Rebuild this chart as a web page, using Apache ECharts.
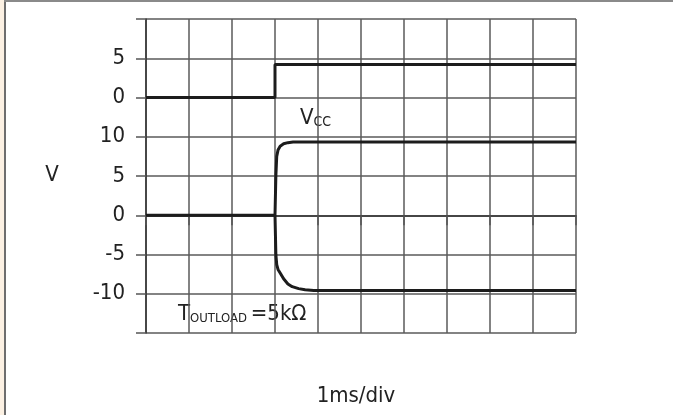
<!DOCTYPE html>
<html>
<head>
<meta charset="utf-8">
<script src="https://cdn.jsdelivr.net/npm/echarts@6/dist/echarts.min.js"></script>
<style>
  html, body { margin: 0; padding: 0; background: #ffffff; }
  #wrap { position: relative; width: 673px; height: 415px; background: #ffffff; overflow: hidden; }
  #strip { position: absolute; left: 0; top: 0; width: 4px; height: 415px; background: #fcf1e3; }
  #lborder { position: absolute; left: 4px; top: 0; width: 2px; height: 415px; background: #6e6e6e; }
  #tborder { position: absolute; left: 4px; top: 0; width: 669px; height: 2px; background: #8a8a8a; }
  #chart { position: absolute; left: 0; top: 0; width: 673px; height: 415px; }
</style>
</head>
<body>
<div id="wrap">
  <div id="strip"></div>
  <div id="lborder"></div>
  <div id="tborder"></div>
  <div id="chart"></div>
</div>
<script>
// ---- data (time in ms, 1 ms/div; voltages in V) ----
const xTicksMs = [0, 1, 2, 3, 4, 5, 6, 7, 8, 9, 10];
// y axis is in volts of the lower (output) traces; the upper (input) trace is shifted up 3 divisions
const upperOffsetV = 15;
const yTickValues = [-15, -10, -5, 0, 5, 10, 15, 20, 25];
const yTickLabels = ['', '-10', '-5', '0', '5', '10', '0', '5', ''];

const inputTime  = [0, 3, 3, 10];
const inputVolts = [0, 0, 4.2, 4.2];

const posTime  = [0, 3, 3.02, 3.04, 3.07, 3.12, 3.2, 3.3, 3.42, 10];
const posVolts = [0, 0, 5, 7.5, 8.3, 8.8, 9.1, 9.25, 9.33, 9.33];

const negTime  = [3, 3.02, 3.04, 3.07, 3.12, 3.2, 3.3, 3.4, 3.55, 3.7, 3.9, 4.2, 10];
const negVolts = [0, -5, -6.3, -6.9, -7.35, -8.1, -8.75, -9.1, -9.35, -9.5, -9.58, -9.6, -9.6];

const FONT = "'Liberation Sans Narrow', 'DejaVu Sans Condensed', 'Roboto Condensed', sans-serif";
const INK = '#1c1c1c';

function pairs(xs, ys, off) {
  return xs.map((x, i) => [x, ys[i] + (off || 0)]);
}

const chart = echarts.init(document.getElementById('chart'), null, { renderer: 'canvas' });

const lineSeries = (data) => ({
  type: 'line',
  data: data,
  showSymbol: false,
  symbol: 'none',
  smooth: false,
  lineStyle: { color: INK, width: 3 },
  silent: true,
  animation: false
});

chart.setOption({
  backgroundColor: 'transparent',
  animation: false,
  grid: { left: 146, right: 97, top: 19, bottom: 82, containLabel: false },
  xAxis: {
    type: 'value',
    min: xTicksMs[0],
    max: xTicksMs[xTicksMs.length - 1],
    interval: 1,
    axisLine: { show: true, lineStyle: { color: '#333', width: 1.5 } },
    axisTick: { show: true, length: 10, lineStyle: { color: '#555', width: 1.5 } },
    axisLabel: { show: false },
    splitLine: { show: true, lineStyle: { color: '#5a5a5a', width: 1.5 } }
  },
  yAxis: {
    type: 'value',
    min: yTickValues[0],
    max: yTickValues[yTickValues.length - 1],
    interval: 5,
    axisLine: { show: true, lineStyle: { color: '#333', width: 1.5 } },
    axisTick: { show: true, length: 10, lineStyle: { color: '#555', width: 1.5 } },
    axisLabel: {
      margin: 21,
      color: '#222',
      fontSize: 22,
      fontFamily: FONT,
      formatter: function (v) {
        const i = yTickValues.indexOf(v);
        return i >= 0 ? yTickLabels[i] : '';
      }
    },
    splitLine: { show: true, lineStyle: { color: '#5a5a5a', width: 1.5 } }
  },
  graphic: [
    { type: 'text', style: { text: 'V', x: 52, y: 175, textAlign: 'center', textVerticalAlign: 'middle', fontSize: 22, fontFamily: FONT, fill: '#222' } },
    { type: 'text', style: {
        text: '{a|V}{b|CC}', x: 300, y: 129, textAlign: 'left', textVerticalAlign: 'bottom', fontFamily: FONT, fill: '#222',
        rich: { a: { fontSize: 22, fontFamily: FONT, fill: '#222', verticalAlign: 'bottom', lineHeight: 23 },
                b: { fontSize: 14, fontFamily: FONT, fill: '#222', verticalAlign: 'bottom', lineHeight: 23 } } } },
    { type: 'text', style: {
        text: '{a|T}{b|OUTLOAD }{a|=5kΩ}', x: 178, y: 325, textAlign: 'left', textVerticalAlign: 'bottom', fontFamily: FONT, fill: '#222',
        rich: { a: { fontSize: 22, fontFamily: FONT, fill: '#222', verticalAlign: 'bottom', lineHeight: 23 },
                b: { fontSize: 13, fontFamily: FONT, fill: '#222', verticalAlign: 'bottom', lineHeight: 23 } } } },
    { type: 'text', style: { text: '1ms/div', x: 356, y: 396, textAlign: 'center', textVerticalAlign: 'middle', fontSize: 22, fontFamily: FONT, fill: '#222' } }
  ],
  series: [
    lineSeries(pairs(inputTime, inputVolts, upperOffsetV)),
    lineSeries(pairs(posTime, posVolts)),
    lineSeries(pairs(negTime, negVolts))
  ]
});
</script>
</body>
</html>
